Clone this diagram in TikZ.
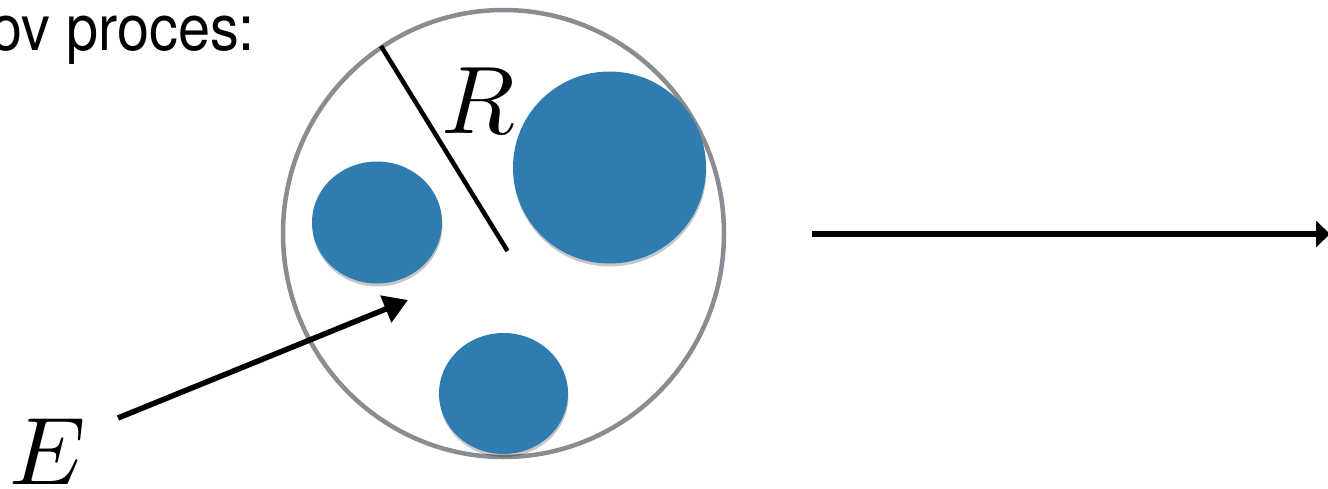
\documentclass[tikz,border=0pt]{standalone}
\usepackage{fontspec}
\usepackage{graphicx}
\setsansfont{TeX Gyre Heros}
\usetikzlibrary{arrows.meta,shadows,shapes.geometric}
\definecolor{ballblue}{HTML}{2F7DB0}
\definecolor{rimgray}{HTML}{898C90}
\newcommand{\bigsym}[1]{\scalebox{9.6}{$#1$}}
\tikzset{
  ball/.style={fill=ballblue, draw=none, drop shadow={shadow xshift=0.5pt, shadow yshift=-3pt, opacity=0.22, fill=black}},
  rim/.style={draw=rimgray, line width=4.5pt},
  arr/.style={line width=5.5pt, -{Triangle[length=24pt,width=28pt]}},
  biglabel/.style={inner sep=0pt},
}
\begin{document}
\begin{tikzpicture}[x=1pt,y=-1pt]
\useasboundingbox (0,0) rectangle (1328,488);
% title fragment
\node[inner sep=0pt, anchor=base east, xscale=0.9, font=\sffamily\fontsize{64}{64}\selectfont] (title) at (255,50) {ov proces:};
% outer circle
\draw[rim] (503.5,233.5) ellipse [x radius=220.5, y radius=223.5];
\coordinate (oc) at (503.5,233.5);
% blobs
\node[ball, ellipse, minimum width=193pt, minimum height=192pt, inner sep=0pt] (b1) at (609.5,167.5) {};
\node[ball, ellipse, minimum width=130pt, minimum height=122pt, inner sep=0pt] (b2) at (377,222.5) {};
\node[ball, ellipse, minimum width=129pt, minimum height=121pt, inner sep=0pt] (b3) at (503.5,393.5) {};
% radius
\coordinate (r0) at (381,46);
\coordinate (r1) at (507.5,251);
\draw[line width=4.5pt] (r0) -- (r1);
\node[biglabel] (R) at (478,101) {\bigsym{R}};
% E arrow
\node[biglabel] (E) at (48,452) {\bigsym{E}};
\coordinate (e0) at (118,418);
\coordinate (e1) at (408,300);
\draw[arr] (e0) -- (e1);
% main arrow
\coordinate (a0) at (812,234);
\coordinate (a1) at (1330,234);
\draw[arr, -{Triangle[length=14pt,width=26pt]}] (a0) -- (a1);
\end{tikzpicture}
\end{document}
